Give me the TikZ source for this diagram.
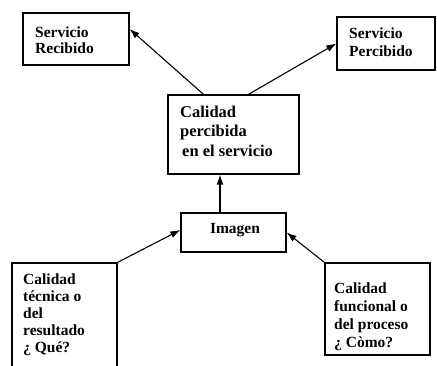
\documentclass[tikz,border=0pt]{standalone}
\usepackage{fontspec}
\setmainfont{Liberation Serif}
\usetikzlibrary{arrows.meta}
\begin{document}
\begin{tikzpicture}[x=1pt,y=-1pt,
  box/.style={draw, line width=1.3pt, rectangle, inner sep=0pt},
  lbl/.style={anchor=north west, inner sep=0pt, align=left,
    font=\bfseries\fontsize{15.5}{17}\selectfont},
  arr/.style={line width=1.1pt, -{Latex[length=10pt,width=7pt]}}]
\useasboundingbox (0,0) rectangle (437,365);
\fill[white] (0,0) rectangle (437,365);

% frames
\node[box, minimum width=106pt, minimum height=52pt] (rec) at (76,39) {};
\node[box, minimum width=98pt, minimum height=53pt] (per) at (386,43.5) {};
\node[box, minimum width=131pt, minimum height=79pt] (cal) at (233.5,134.5) {};
\node[box, minimum width=105pt, minimum height=39pt] (img) at (233.5,232.5) {};
\node[box, minimum width=105pt, minimum height=106pt] (tec) at (64.5,316) {};
\node[box, minimum width=105pt, minimum height=92pt] (fun) at (377.5,309) {};

% labels
\node[lbl, font=\bfseries\fontsize{15.5}{16}\selectfont] (rec-t) at (35,27) {Servicio\\Recibido};
\node[lbl, font=\bfseries\fontsize{15.5}{17.5}\selectfont] (per-t) at (349,28) {Servicio\\Percibido};
\node[lbl, font=\bfseries\fontsize{16.5}{19.5}\selectfont] (cal-t) at (180,105.7) {Calidad\\percibida\\\hspace*{2pt}en el servicio};
\node[lbl, anchor=base] (img-t) at (235,233) {Imagen};
\node[lbl] (tec-t) at (23,273.5) {Calidad\\técnica o\\del\\resultado\\¿ Qué?};
\node[lbl, font=\bfseries\fontsize{15.5}{18}\selectfont] (fun-t) at (334,283) {Calidad\\funcional o\\del proceso\\¿ Còmo?};

% connectors
\draw[arr] ([xshift=-30pt]cal.north) -- ([yshift=10pt]rec.east);
\draw[arr] ([xshift=15pt]cal.north) -- (per.west);
\draw[arr] ([xshift=-13.5pt]img.north) -- ([xshift=-13.5pt]cal.south);
\draw[arr] (tec.north east) -- ([yshift=2.5pt]img.west);
\draw[arr] (fun.north west) -- (img.east);
\end{tikzpicture}
\end{document}
